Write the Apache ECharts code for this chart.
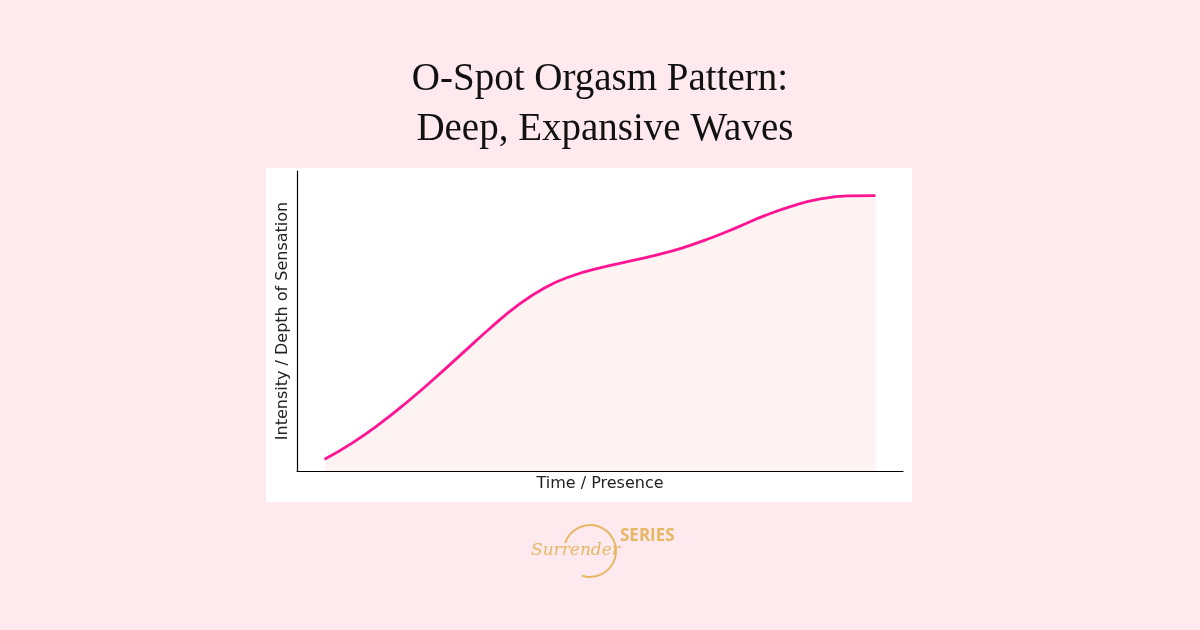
<!DOCTYPE html>
<html>
<head>
<meta charset="utf-8">
<script src="https://cdn.jsdelivr.net/npm/echarts@6/dist/echarts.min.js"></script>
<style>
  html, body { margin: 0; padding: 0; background: #fde9ee; }
  #main { width: 1200px; height: 630px; }
</style>
</head>
<body>
<div id="main"></div>
<script>
var myChart = echarts.init(document.getElementById('main'));

// time steps and intensity
var timeSteps = [0, 0.5, 1, 1.5, 2, 2.5, 3, 3.5, 4, 4.5, 5, 5.5, 6, 6.5, 7, 7.5, 8, 8.5, 9, 9.5, 10];
var intensity = [3.9, 9.3, 15.7, 23.0, 30.9, 39.2, 47.5, 55.1, 61.1, 65.1, 67.7, 69.8, 71.9, 74.4, 77.6, 81.3, 85.2, 88.4, 90.7, 91.7, 91.8];

var titleLines = ['O-Spot Orgasm Pattern:', ' Deep, Expansive Waves'];
var xName = 'Time / Presence';
var yName = 'Intensity / Depth of Sensation';

var points = timeSteps.map(function (t, i) { return [t, intensity[i]]; });

var option = {
    backgroundColor: '#fde9ee',
    title: {
        text: titleLines.join('\n'),
        left: 'center',
        top: 50,
        textStyle: {
            fontFamily: 'Liberation Serif',
            fontWeight: 'normal',
            fontSize: 39,
            lineHeight: 50,
            color: '#111111'
        }
    },
    graphic: [
        {
            type: 'rect',
            z: -10,
            shape: { x: 266, y: 168, width: 646, height: 334 },
            style: { fill: '#ffffff' }
        },
        {
            type: 'text',
            left: 'center',
            top: 476,
            style: { text: xName, fontFamily: 'DejaVu Sans', fontSize: 16, fill: '#222222' }
        },
        {
            type: 'text',
            x: 283,
            y: 321,
            rotation: Math.PI / 2,
            style: {
                text: yName, fontFamily: 'DejaVu Sans', fontSize: 16, fill: '#222222',
                align: 'center', verticalAlign: 'middle'
            }
        },
        {
            type: 'arc',
            shape: { cx: 590, cy: 551, r: 26, startAngle: -Math.PI * 0.9, endAngle: Math.PI * 0.6 },
            style: { stroke: '#e6b865', lineWidth: 2, fill: null }
        },
        {
            type: 'text',
            x: 531,
            y: 542,
            style: {
                text: 'Surrender', fontFamily: 'DejaVu Serif', fontStyle: 'italic',
                fontSize: 17, fill: '#e6b865'
            }
        },
        {
            type: 'text',
            x: 620,
            y: 528,
            style: {
                text: 'SERIES', fontFamily: 'Open Sans', fontWeight: 'bold',
                fontSize: 17, fill: '#e6b865'
            }
        }
    ],
    grid: { left: 297, right: 297, top: 171, bottom: 159 },
    xAxis: {
        type: 'value',
        min: -0.5,
        max: 10.5,
        axisLine: { show: true, onZero: false, lineStyle: { color: '#000000', width: 1.2 } },
        axisTick: { show: false },
        axisLabel: { show: false },
        splitLine: { show: false }
    },
    yAxis: {
        type: 'value',
        min: 0,
        max: 100,
        axisLine: { show: true, onZero: false, lineStyle: { color: '#000000', width: 1.2 } },
        axisTick: { show: false },
        axisLabel: { show: false },
        splitLine: { show: false }
    },
    series: [
        {
            type: 'line',
            data: points,
            smooth: true,
            showSymbol: false,
            lineStyle: { color: '#ff1493', width: 2.8 },
            areaStyle: { color: '#fdeeee', origin: 'start' }
        }
    ]
};

myChart.setOption(option);
</script>
</body>
</html>
